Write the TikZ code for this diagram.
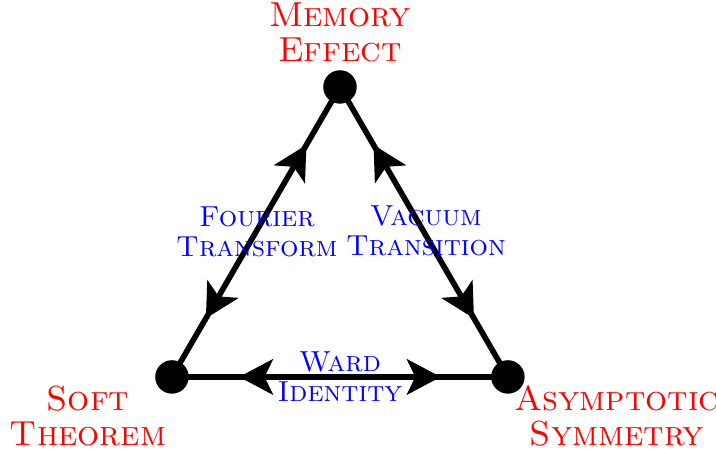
\documentclass[tikz,border=0pt]{standalone}
\usetikzlibrary{arrows.meta,decorations.markings}
\begin{document}
\begin{tikzpicture}[
		vertex/.style={circle,fill=black,inner sep=0pt,minimum size=10.4pt},
		redlabel/.style={text=red,align=center,font=\fontsize{10.8}{10.9}\selectfont\scshape},
		bluelabel/.style={text=blue,align=center,font=\fontsize{9}{9.3}\selectfont\scshape},
		twoway/.style={line width=1.75pt,postaction={decorate},
			decoration={markings,
				mark=at position 0.2 with {\arrowreversed{Stealth[length=10.5pt,width=11pt,inset=2.6pt]}},
				mark=at position 0.8 with {\arrow{Stealth[length=10.5pt,width=11pt,inset=2.6pt]}}}}]
				\useasboundingbox (0,0) rectangle (7.82,4.914);
				% corners
				\node[vertex] (mem) at (3.713,3.964) {};
				\node[vertex] (soft) at (1.878,0.797) {};
				\node[vertex] (asym) at (5.547,0.797) {};
				% sides
				\draw[twoway] (mem.center) -- (soft.center);
				\draw[twoway] (mem.center) -- (asym.center);
				\draw[twoway] (soft.center) -- (asym.center);
				% names of the corners
				\node[redlabel] (memlab) at (3.713,4.56) {Memory\\Effect};
				\node[redlabel] (softlab) at (0.961,0.37) {Soft\\Theorem};
				\node[redlabel] (asymlab) at (6.738,0.37) {Asymptotic\\Symmetry};
				% names of the sides
				\node[bluelabel] (fourier) at (2.806,2.38) {Fourier\\Transform};
				\node[bluelabel] (vacuum) at (4.652,2.39) {Vacuum\\Transition};
				\node[bluelabel] (ward) at (3.713,0.80) {Ward\\Identity};
			\end{tikzpicture}
\end{document}
